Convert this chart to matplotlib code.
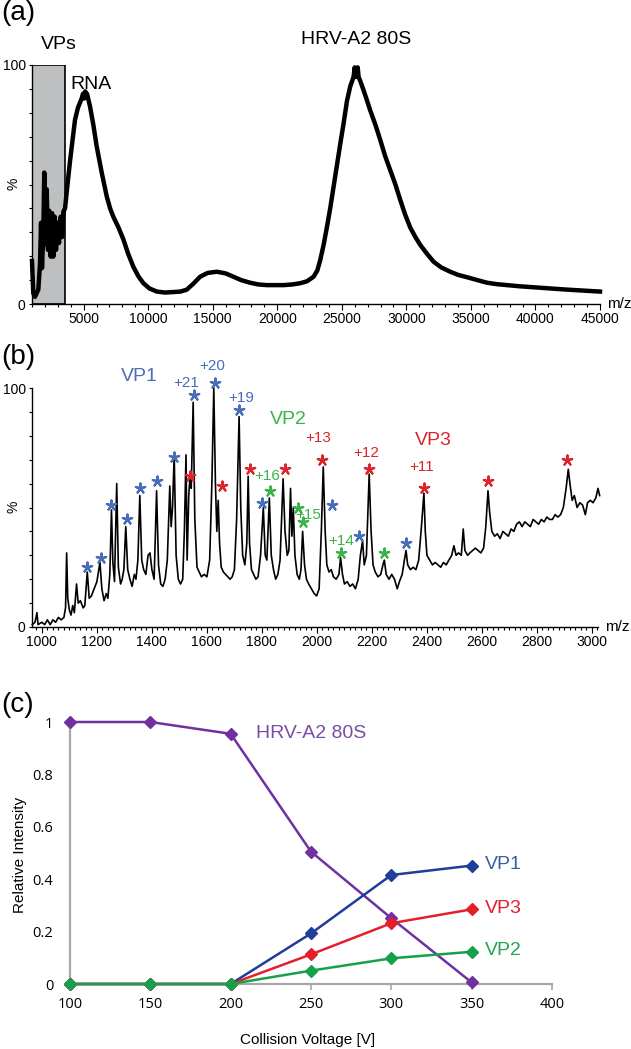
import numpy as np
import matplotlib
matplotlib.use('Agg')
import matplotlib.pyplot as plt
from matplotlib.patches import Rectangle
from matplotlib.ticker import MultipleLocator, FixedLocator

plt.rcParams['font.family'] = ['Liberation Sans', 'DejaVu Sans']

# ---- panel (a): native spectrum (m/z, %)
a_mz = [1000, 1100, 1230, 1490, 1620, 1700, 1775, 1880, 1950, 2060, 2140, 2240,
        2340, 2450, 2550, 2650, 2760, 2860, 2960, 3090, 3220, 3330, 3430, 3560,
        3750, 3950, 4150, 4330, 4550, 4850, 4950, 5050, 5120, 5190, 5260, 5350,
        5500, 5750, 6010, 6400, 6790, 7050, 7300, 7700, 8080, 8450, 8850, 9250,
        9630, 10100, 10670, 11300, 11950, 12500, 12990, 13500, 14020, 14600,
        15320, 16000, 16610, 17200, 17900, 18500, 19190, 20480, 21200, 21780,
        22300, 22810, 23100, 23330, 23600, 23840, 24100, 24360, 24620, 24880,
        25150, 25400, 25650, 25910, 26000, 26050, 26120, 26170, 26230, 26300,
        26450, 26680, 26900, 27200, 27600, 27980, 28350, 28750, 29150, 29530,
        29900, 30300, 30700, 31080, 31600, 32110, 32700, 33400, 34000, 34700,
        35500, 36250, 37000, 37800, 38800, 39860, 40900, 41930, 42800, 43740, 45000]
a_int = [18, 4.5, 3, 6, 17, 34, 15, 31, 55, 25, 48, 22.6,
         39, 19.8, 38, 19.8, 36.5, 22.6, 34, 25.5, 36.5, 28, 38.6, 40,
         50, 60, 69, 77, 82, 86, 88, 86, 89, 87, 88, 86,
         82.5, 75, 66, 55, 45, 40, 36.5, 32, 27, 21, 15.6, 11.5,
         8.7, 6.5, 5.2, 4.8, 5, 5.2, 6, 8.5, 11.4, 13,
         13.5, 12.8, 11.4, 10, 8.9, 8.2, 7.9, 7.9, 8.2, 8.7,
         9.5, 11.4, 14, 18.4, 25, 32, 40, 49, 58, 67,
         76, 85, 91, 95, 99, 95, 98, 96, 99, 95,
         93, 89.5, 86, 81, 75, 68.6, 62, 56, 50, 43.5,
         37.5, 32, 28, 24.7, 21, 17.7, 15.3, 13.5, 12.2, 11.2,
         10, 8.9, 8.3, 7.9, 7.4, 7, 6.6, 6.2, 5.9, 5.6, 5.2]
vp_region = (1000, 3550)

# ---- panel (b): denatured spectrum, traced (m/z, %)
b_mz = [965, 975, 982, 986, 1000, 1010, 1020, 1030, 1040, 1050, 1060, 1070, 1080,
        1086, 1090, 1094, 1100, 1106, 1112, 1118, 1126, 1132, 1140, 1150, 1156,
        1165, 1172, 1180, 1190, 1200, 1211, 1218, 1226, 1234, 1240, 1247, 1253,
        1258, 1264, 1272, 1278, 1286, 1292, 1298, 1305, 1312, 1320, 1328, 1336,
        1342, 1349, 1356, 1363, 1370, 1378, 1386, 1393, 1400, 1408, 1417, 1424,
        1432, 1440, 1448, 1456, 1465, 1470, 1475, 1481, 1488, 1496, 1504, 1512,
        1518, 1524, 1528, 1534, 1538, 1543, 1550, 1556, 1564, 1572, 1580, 1590,
        1600, 1610, 1618, 1625, 1631, 1636, 1641, 1646, 1652, 1660, 1668, 1676,
        1684, 1692, 1700, 1708, 1717, 1723, 1730, 1738, 1745, 1750, 1755, 1762,
        1770, 1778, 1786, 1795, 1805, 1812, 1818, 1827, 1834, 1842, 1850, 1858,
        1866, 1877, 1884, 1892, 1898, 1904, 1909, 1914, 1920, 1928, 1936, 1942,
        1948, 1955, 1962, 1970, 1980, 1990, 1999, 2008, 2016, 2023, 2030, 2036,
        2044, 2052, 2060, 2070, 2080, 2086, 2093, 2100, 2110, 2120, 2130, 2140,
        2150, 2158, 2166, 2172, 2180, 2190, 2197, 2204, 2212, 2222, 2232, 2240,
        2245, 2252, 2262, 2272, 2282, 2292, 2300, 2310, 2318, 2324, 2330, 2340,
        2350, 2360, 2370, 2380, 2389, 2394, 2400, 2410, 2420, 2430, 2440, 2450,
        2460, 2470, 2480, 2490, 2498, 2506, 2515, 2525, 2532, 2538, 2548, 2556,
        2566, 2576, 2586, 2596, 2606, 2614, 2622, 2628, 2636, 2646, 2656, 2666,
        2676, 2686, 2696, 2706, 2716, 2726, 2736, 2746, 2756, 2766, 2776, 2786,
        2796, 2806, 2816, 2826, 2836, 2846, 2856, 2866, 2876, 2886, 2896, 2906,
        2914, 2920, 2928, 2936, 2946, 2956, 2966, 2976, 2984, 2994, 3004, 3014,
        3022, 3028]
b_int = [1, 2, 6, 1, 2, 1, 3, 1, 3, 2, 4, 3, 4,
         8, 31, 12, 7, 5, 9, 6, 18, 10, 11, 8, 9,
         23, 12, 13, 16, 19, 27, 16, 11, 14, 12, 22, 49,
         27, 19, 60, 25, 18, 20, 24, 42, 24, 20, 17, 22,
         20, 28, 55, 28, 24, 22, 30, 31, 24, 20, 57, 26,
         18, 17, 20, 28, 59, 42, 50, 72, 30, 20, 18, 20,
         40, 72, 28, 55, 62, 58, 94, 45, 25, 23, 21, 22,
         21, 28, 60, 100, 60, 40, 53, 35, 25, 23, 22, 21,
         20, 21, 24, 45, 88, 50, 30, 26, 35, 63, 35, 24,
         22, 20, 21, 30, 50, 30, 28, 54, 30, 24, 20, 22,
         28, 62, 40, 30, 32, 58, 38, 50, 30, 22, 20, 24,
         40, 26, 20, 18, 16, 14, 13, 16, 40, 67, 40, 26,
         23, 24, 21, 20, 22, 29, 22, 18, 19, 17, 18, 16,
         20, 30, 36, 26, 30, 64, 40, 26, 23, 21, 22, 26,
         28, 22, 20, 22, 20, 16, 19, 22, 28, 32, 26, 24,
         25, 24, 28, 42, 56, 40, 30, 28, 26, 27, 26, 25,
         27, 26, 28, 30, 34, 30, 31, 30, 41, 32, 30, 31,
         32, 33, 32, 31, 33, 42, 57, 48, 40, 38, 39, 37,
         40, 39, 38, 41, 40, 43, 44, 42, 44, 43, 42, 45,
         44, 43, 45, 44, 46, 45, 45, 47, 46, 47, 50, 58,
         66, 60, 53, 55, 50, 52, 51, 47, 52, 53, 52, 54,
         58, 55]

# asterisk positions (m/z, %)
vp1_star_mz = [1165, 1216, 1251, 1308, 1356, 1417, 1480, 1553, 1629, 1717, 1801, 2053, 2154, 2324]
vp1_star_int = [25, 29, 51, 45, 58, 61, 71, 97, 102, 91, 52, 51, 38, 35]
vp3_star_mz = [1538, 1656, 1756, 1884, 2020, 2190, 2390, 2621, 2911]
vp3_star_int = [63, 59, 66, 66, 70, 66, 58, 61, 70]
vp2_star_mz = [1829, 1930, 1950, 2086, 2245]
vp2_star_int = [57, 50, 44, 31, 31]

# charge state labels
charge_labels = ['+21', '+20', '+19', '+16', '+15', '+14', '+13', '+12', '+11']
charge_mz = [1524, 1618, 1724, 1818, 1967, 2087, 2004, 2178, 2382]
charge_int = [102, 109, 96, 63, 47, 36, 79, 73, 67]
charge_grp = ['VP1', 'VP1', 'VP1', 'VP2', 'VP2', 'VP2', 'VP3', 'VP3', 'VP3']

# ---- panel (c): relative intensity vs collision voltage
voltage = [100, 150, 200, 250, 300, 350]
hrv80s = [1.0, 1.0, 0.955, 0.505, 0.251, 0.006]
vp1 = [0, 0, 0, 0.193, 0.416, 0.452]
vp3 = [0, 0, 0, 0.113, 0.232, 0.285]
vp2 = [0, 0, 0, 0.051, 0.098, 0.123]

spec_col = {'VP1': '#4A6DB8', 'VP2': '#3AB34A', 'VP3': '#D9252D'}

W, H = 631, 1049
fig = plt.figure(figsize=(W / 100, H / 100), dpi=100)


def px_axes(left, top, right, bottom):
    return fig.add_axes([left / W, 1 - bottom / H, (right - left) / W, (bottom - top) / H])


def spectrum_style(ax, pct_y):
    ax.spines['right'].set_visible(False)
    ax.spines['top'].set_visible(False)
    ax.spines['left'].set_linewidth(1.0)
    ax.spines['bottom'].set_linewidth(1.0)
    ax.set_ylim(0, 100)
    ax.yaxis.set_major_locator(FixedLocator([0, 100]))
    ax.yaxis.set_minor_locator(MultipleLocator(10))
    ax.tick_params(axis='both', which='major', direction='out', length=4, width=0.8,
                   labelsize=10, pad=2)
    ax.tick_params(axis='both', which='minor', direction='out', length=2.5, width=0.8)
    ax.tick_params(axis='y', which='major', length=2.5)
    ax.annotate('m/z', xy=(1, 0), xycoords='axes fraction', xytext=(5, 0),
                textcoords='offset points', ha='left', va='center', fontsize=11)
    fig.text(14 / W, 1 - pct_y / H, '%', rotation=90, ha='center', va='center', fontsize=10)


# ---------------- (a)
ax1 = px_axes(32, 65, 600, 304)
ax1.add_patch(Rectangle((vp_region[0], 0), vp_region[1] - vp_region[0], 100,
                        facecolor='#BDBFC1', edgecolor='black', lw=1.2, zorder=0))
ax1.plot(a_mz, a_int, color='black', lw=3.2, solid_joinstyle='round', clip_on=False)
ax1.set_xlim(1000, 45000)
ax1.xaxis.set_major_locator(FixedLocator(list(range(5000, 45001, 5000))))
ax1.xaxis.set_minor_locator(MultipleLocator(1000))
spectrum_style(ax1, 184)
ax1.text(3090, 108.5, 'VPs', ha='center', va='center', fontsize=14)
ax1.text(5600, 92, 'RNA', ha='center', va='center', fontsize=14)
ax1.text(26100, 110.5, 'HRV-A2 80S', ha='center', va='center', fontsize=14)

# ---------------- (b)
ax2 = px_axes(32, 388, 598, 627)
ax2.plot(b_mz, b_int, color='black', lw=1.2, clip_on=False)
ax2.set_xlim(964, 3022)
ax2.xaxis.set_major_locator(MultipleLocator(200))
ax2.xaxis.set_minor_locator(MultipleLocator(20))
spectrum_style(ax2, 507)
for mzs, ints, key in [(vp1_star_mz, vp1_star_int, 'VP1'),
                       (vp3_star_mz, vp3_star_int, 'VP3'),
                       (vp2_star_mz, vp2_star_int, 'VP2')]:
    ax2.scatter(mzs, ints, marker=(5, 2, 0), s=50, color=spec_col[key],
                linewidths=1.6, clip_on=False, zorder=3)
for lab, mz, it, grp in zip(charge_labels, charge_mz, charge_int, charge_grp):
    ax2.text(mz, it, lab, ha='center', va='center', fontsize=11, color=spec_col[grp])
ax2.text(1356, 105, 'VP1', ha='center', va='center', fontsize=14, color=spec_col['VP1'])
ax2.text(1895, 87, 'VP2', ha='center', va='center', fontsize=14, color=spec_col['VP2'])
ax2.text(2422, 78, 'VP3', ha='center', va='center', fontsize=14, color=spec_col['VP3'])

# ---------------- (c)
ax3 = px_axes(70, 722, 552, 984)
grey = '#A6A6A6'
lines = [(hrv80s, '#7030A0'), (vp1, '#1F3D99'), (vp3, '#E3202A'), (vp2, '#17A04A')]
for vals, col in lines:
    ax3.plot(voltage, vals, color=col, lw=1.8, marker='D', markersize=6,
             clip_on=False, zorder=3)
ax3.set_xlim(100, 400)
ax3.set_ylim(0, 1)
ax3.set_xticks([100, 150, 200, 250, 300, 350, 400])
ax3.set_yticks([0, 0.2, 0.4, 0.6, 0.8, 1])
ax3.set_yticklabels(['0', '0.2', '0.4', '0.6', '0.8', '1'])
for sp in ['top', 'right']:
    ax3.spines[sp].set_visible(False)
for sp in ['left', 'bottom']:
    ax3.spines[sp].set_color(grey)
    ax3.spines[sp].set_linewidth(1.6)
ax3.tick_params(axis='x', direction='out', length=4, width=1.2, color=grey, pad=5)
ax3.tick_params(axis='y', length=0, pad=12)
for lab in ax3.get_xticklabels() + ax3.get_yticklabels():
    lab.set_fontfamily(['Open Sans', 'DejaVu Sans'])
    lab.set_fontsize(10.5)
ax3.text(216, 0.958, 'HRV-A2 80S', ha='left', va='center', fontsize=14, color='#7A4CA6')
ax3.text(358, 0.458, 'VP1', ha='left', va='center', fontsize=14, color='#3A5CA8')
ax3.text(358, 0.29, 'VP3', ha='left', va='center', fontsize=14, color='#E3202A')
ax3.text(358, 0.126, 'VP2', ha='left', va='center', fontsize=14, color='#1FA84D')
fig.text(20 / W, 1 - 855 / H, 'Relative Intensity', rotation=90, ha='center', va='center',
         fontsize=11)
fig.text(308 / W, 1 - 1040 / H, 'Collision Voltage [V]', ha='center', va='center',
         fontsize=11)

# panel letters
fig.text(0.002, 1 - 13 / H, '(a)', ha='left', va='center', fontsize=20)
fig.text(0.002, 1 - 357 / H, '(b)', ha='left', va='center', fontsize=20)
fig.text(0.002, 1 - 705 / H, '(c)', ha='left', va='center', fontsize=20)

fig.savefig('out.png', dpi=100)
